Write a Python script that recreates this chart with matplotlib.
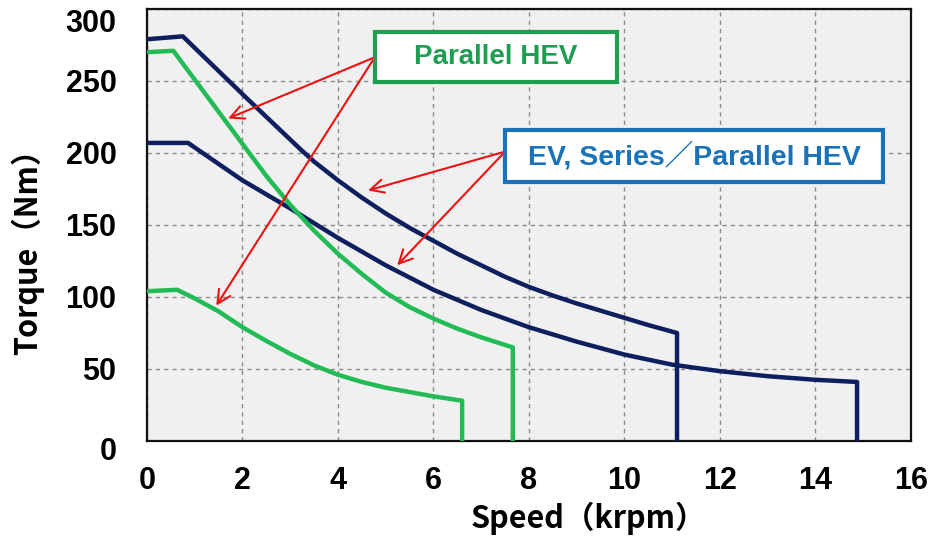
import matplotlib
matplotlib.use("Agg")
import matplotlib.pyplot as plt
import matplotlib.transforms as mtransforms
from matplotlib.patches import Rectangle

# data (speed in krpm, torque in Nm)
ev_high_x = [0, 0.75, 2.09, 3.2, 3.5, 4.0, 4.5, 5.0, 5.5, 6.0, 6.5, 7.0, 7.5, 8.0, 8.5, 9.0, 9.5, 10.0, 10.5, 11.1, 11.1]
ev_high_y = [279, 281, 238, 203, 194, 181, 169, 158, 148, 139, 130, 122, 114, 107, 101, 95.5, 90.5, 85.5, 80.5, 75, 0]

ev_low_x = [0, 0.86, 2.0, 3.0, 4.0, 5.0, 6.0, 7.0, 8.0, 9.0, 10.0, 11.0, 12.0, 13.0, 14.0, 14.87, 14.87]
ev_low_y = [207, 207, 181, 161.5, 141, 122, 105, 91, 79, 69, 60, 53, 48.5, 45, 42.5, 41, 0]

hev_high_x = [0, 0.55, 2.5, 3.0, 3.5, 4.0, 4.5, 5.0, 5.5, 6.0, 6.5, 7.0, 7.66, 7.66]
hev_high_y = [270, 271, 184, 164, 146, 130, 116, 103, 93, 85, 78, 72, 65, 0]

hev_low_x = [0, 0.63, 1.0, 1.5, 2.0, 2.5, 3.0, 3.5, 4.0, 4.5, 5.0, 5.5, 6.0, 6.6, 6.6]
hev_low_y = [104, 105, 99, 90, 79, 69.5, 60.5, 52.5, 46, 41, 37, 34, 31, 28, 0]

x_ticks = [0, 2, 4, 6, 8, 10, 12, 14, 16]
y_ticks = [0, 50, 100, 150, 200, 250, 300]

navy = "#0d1f5e"
green = "#22bb55"
green_txt = "#1e9e50"
blue_box = "#1a73b8"

fig = plt.figure(figsize=(9.29, 5.38), dpi=100)
ax = fig.add_axes([147 / 929, 97 / 538, 764 / 929, 432 / 538])
ax.set_facecolor("#f0f0f0")

ax.plot(ev_high_x, ev_high_y, color=navy, lw=3.2, solid_joinstyle="round", zorder=3)
ax.plot(ev_low_x, ev_low_y, color=navy, lw=3.2, solid_joinstyle="round", zorder=3)
ax.plot(hev_high_x, hev_high_y, color=green, lw=3.2, solid_joinstyle="round", zorder=3)
ax.plot(hev_low_x, hev_low_y, color=green, lw=3.2, solid_joinstyle="round", zorder=3)

ax.set_xlim(0, 16)
ax.set_ylim(0, 300)
ax.set_xticks(x_ticks)
ax.set_yticks(y_ticks)
ax.set_xticklabels([str(v) for v in x_ticks])
ax.set_yticklabels([str(v) for v in y_ticks])
ax.grid(True, color="#8a8a8a", lw=1.0, linestyle=(0, (3, 3)), zorder=1)
ax.tick_params(axis="both", length=0, labelsize=22)
ax.tick_params(axis="y", pad=22)
ax.tick_params(axis="x", pad=18)
for lab in ax.get_xticklabels() + ax.get_yticklabels():
    lab.set_fontfamily("Liberation Sans")
    lab.set_fontweight("bold")
for sp in ax.spines.values():
    sp.set_linewidth(1.6)
    sp.set_color("#111111")

# nudge the end labels on y like in the original
for lab in ax.get_yticklabels():
    if lab.get_text() == "300":
        lab.set_transform(lab.get_transform() + mtransforms.ScaledTranslation(0, -0.11, fig.dpi_scale_trans))
    if lab.get_text() == "0":
        lab.set_transform(lab.get_transform() + mtransforms.ScaledTranslation(0, -0.08, fig.dpi_scale_trans))

fig.text(27 / 929, 1 - 244 / 538, "Torque（Nm）", rotation=90, ha="center", va="center",
         fontsize=22, fontweight="bold", family=["Noto Sans CJK JP", "DejaVu Sans"])
fig.text(588 / 929, 1 - 518 / 538, "Speed（krpm）", ha="center", va="center",
         fontsize=22, fontweight="bold", family=["Noto Sans CJK JP", "DejaVu Sans"])

# label boxes
ax.add_patch(Rectangle((4.77, 249), 5.07, 35, facecolor="white", edgecolor=green_txt,
                       lw=3, zorder=5, clip_on=False))
ax.text(7.31, 266.5, "Parallel HEV", ha="center", va="center", color=green_txt,
        fontsize=20, fontweight="bold", family=["Liberation Sans", "Noto Sans CJK JP"], zorder=6)

ax.add_patch(Rectangle((7.50, 180), 7.92, 36, facecolor="white", edgecolor=blue_box,
                       lw=3, zorder=5, clip_on=False))
ax.text(11.46, 198, "EV, Series／Parallel HEV", ha="center", va="center", color=blue_box,
        fontsize=20.5, fontweight="bold", family=["Liberation Sans", "Noto Sans CJK JP"], zorder=6)

arrow = dict(arrowstyle="->", color="#ee1111", lw=1.5, mutation_scale=24, shrinkA=0, shrinkB=0)
ax.annotate("", xy=(1.70, 224), xytext=(4.77, 266.5), arrowprops=arrow, zorder=4)
ax.annotate("", xy=(1.45, 94), xytext=(4.77, 266.5), arrowprops=arrow, zorder=4)
ax.annotate("", xy=(4.63, 174), xytext=(7.50, 201), arrowprops=arrow, zorder=4)
ax.annotate("", xy=(5.24, 122), xytext=(7.50, 201), arrowprops=arrow, zorder=4)

fig.savefig("out.png", dpi=100)
